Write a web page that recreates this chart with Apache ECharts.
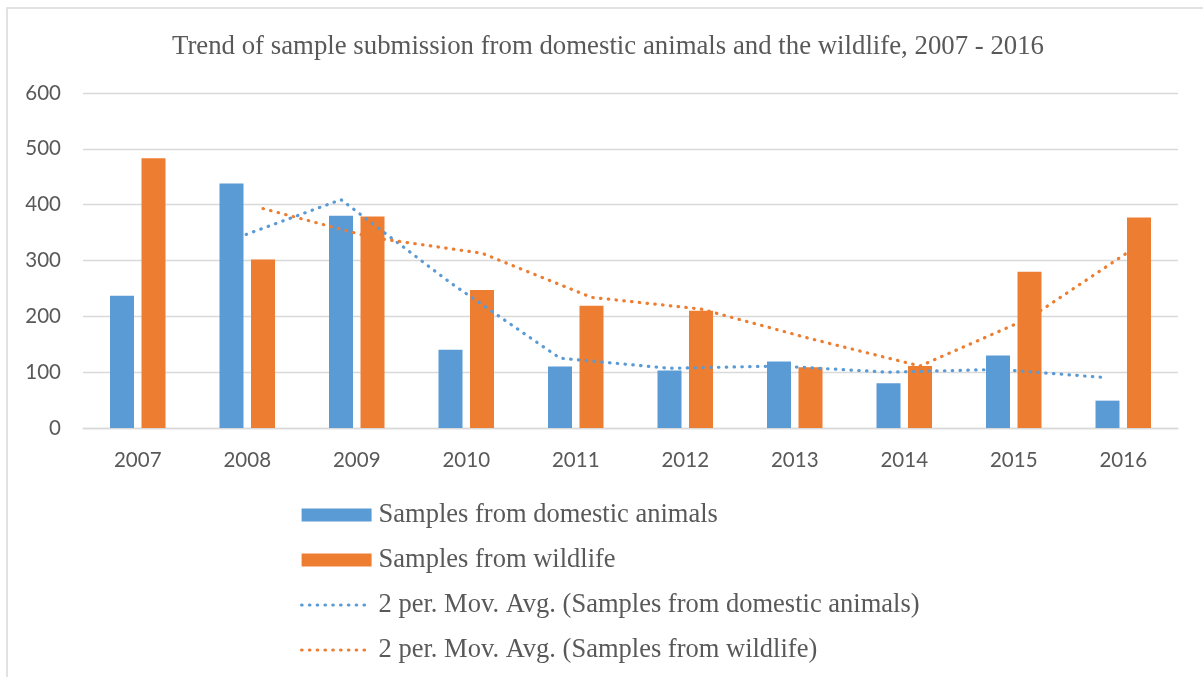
<!DOCTYPE html>
<html>
<head>
<meta charset="utf-8">
<script src="https://cdn.jsdelivr.net/npm/echarts@6/dist/echarts.min.js"></script>
<style>
  html, body { margin: 0; padding: 0; background: #ffffff; }
  #chart { width: 1203px; height: 677px; }
</style>
</head>
<body>
<div id="chart"></div>
<script>
// Yearly sample submissions
const years = ['2007', '2008', '2009', '2010', '2011', '2012', '2013', '2014', '2015', '2016'];
const domestic = [237, 438, 380, 140, 110, 103, 119, 80, 130, 49];
const wildlife = [483, 302, 379, 247, 219, 210, 109, 111, 280, 377];
// 2-period moving-average trendlines
const domesticMovAvg = [null, 337, 409, 260, 125, 107, 111, 100, 105, 90];
const wildlifeMovAvg = [null, 393, 341, 313, 234, 213, 160, 111, 197, 328];
// Value axis ticks
const yMin = 0, yMax = 600, yStep = 100;

const titleText = 'Trend of sample submission from domestic animals and the wildlife, 2007 - 2016';
const nameDomestic = 'Samples from domestic animals';
const nameWildlife = 'Samples from wildlife';
const nameDomesticAvg = '2 per. Mov. Avg. (Samples from domestic animals)';
const nameWildlifeAvg = '2 per. Mov. Avg. (Samples from wildlife)';

const BLUE = '#5B9BD5', ORANGE = '#ED7D31', TEXT = '#595959', GRID = '#D9D9D9';

// Plot layout
const W = 1203, GRID_LEFT = 83, GRID_RIGHT = 25;
const BAR_W = 24, BAR_GAP_PX = 7.5;
const catWidth = (W - GRID_LEFT - GRID_RIGHT) / years.length;
// trendlines sit over the centre of their own bar in each cluster
const barShift = (BAR_W + BAR_GAP_PX) / 2 / catWidth;

function trendPoints(values, shift) {
  const pts = [];
  values.forEach(function (v, i) { if (v !== null) pts.push([i + shift, v]); });
  return pts;
}

const dotted = { type: [0.5, 7.3], cap: 'round', width: 3.2 };

const chart = echarts.init(document.getElementById('chart'), null, { renderer: 'canvas' });
chart.setOption({
  animation: false,
  backgroundColor: '#ffffff',
  graphic: [{
    type: 'rect',
    shape: { x: 7, y: 8, width: 1220, height: 720 },
    style: { fill: 'none', stroke: GRID, lineWidth: 1.5 },
    silent: true,
    z: -10
  }],
  title: {
    text: titleText,
    left: 603,
    textAlign: 'center',
    top: 28,
    textStyle: { fontFamily: 'Liberation Serif', fontSize: 26.8, fontWeight: 'normal', color: TEXT }
  },
  legend: {
    orient: 'vertical',
    left: 295,
    top: 495,
    itemWidth: 70,
    itemHeight: 13,
    itemGap: 15,
    textStyle: { fontFamily: 'Liberation Serif', fontSize: 26.5, color: TEXT, lineHeight: 30, padding: [0, 0, 0, 2] },
    data: [
      { name: nameDomestic, icon: 'rect' },
      { name: nameWildlife, icon: 'rect' },
      { name: nameDomesticAvg, itemStyle: { opacity: 0 }, lineStyle: Object.assign({ color: BLUE }, dotted) },
      { name: nameWildlifeAvg, itemStyle: { opacity: 0 }, lineStyle: Object.assign({ color: ORANGE }, dotted) }
    ]
  },
  grid: { left: GRID_LEFT, right: GRID_RIGHT, top: 93, bottom: 249, containLabel: false },
  xAxis: [{
    type: 'category',
    data: years,
    axisLine: { lineStyle: { color: GRID, width: 1.3 } },
    axisTick: { show: false },
    axisLabel: { fontFamily: 'Lato', fontSize: 20.5, color: TEXT, margin: 22 }
  }, {
    type: 'value',
    min: -0.5,
    max: years.length - 0.5,
    show: false
  }],
  yAxis: {
    type: 'value',
    min: yMin,
    max: yMax,
    interval: yStep,
    axisLine: { show: false },
    axisTick: { show: false },
    splitLine: { lineStyle: { color: GRID, width: 1.3 } },
    axisLabel: { fontFamily: 'Lato', fontSize: 20.5, color: TEXT, margin: 22 }
  },
  series: [{
    name: nameDomestic,
    type: 'bar',
    data: domestic,
    barWidth: BAR_W,
    barGap: (BAR_GAP_PX / BAR_W * 100) + '%',
    itemStyle: { color: BLUE }
  }, {
    name: nameWildlife,
    type: 'bar',
    data: wildlife,
    barWidth: BAR_W,
    itemStyle: { color: ORANGE }
  }, {
    name: nameDomesticAvg,
    type: 'line',
    xAxisIndex: 1,
    data: trendPoints(domesticMovAvg, -barShift),
    symbol: 'none',
    z: 5,
    itemStyle: { color: BLUE },
    lineStyle: Object.assign({ color: BLUE }, dotted)
  }, {
    name: nameWildlifeAvg,
    type: 'line',
    xAxisIndex: 1,
    data: trendPoints(wildlifeMovAvg, barShift),
    symbol: 'none',
    z: 5,
    itemStyle: { color: ORANGE },
    lineStyle: Object.assign({ color: ORANGE }, dotted)
  }]
});
</script>
</body>
</html>
